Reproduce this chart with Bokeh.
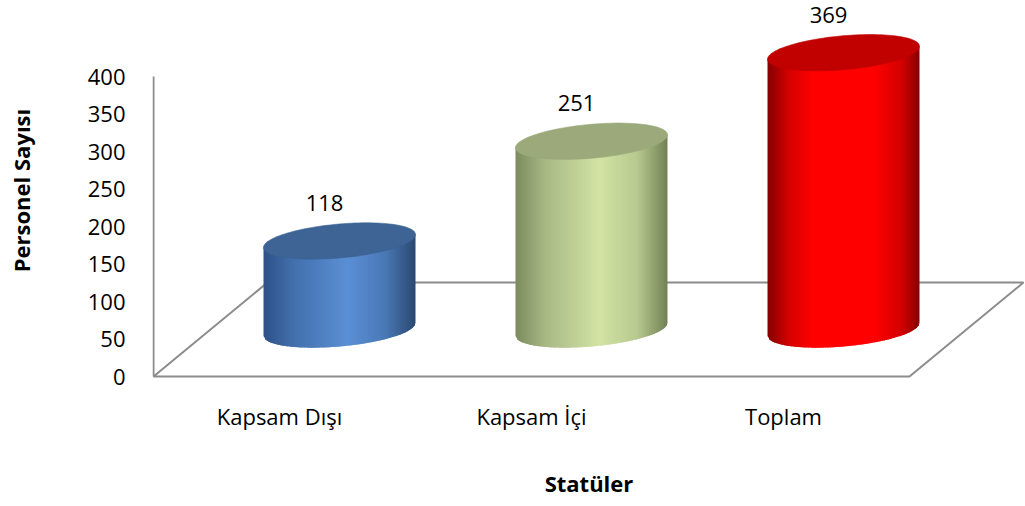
import numpy as np
from bokeh.plotting import figure
from bokeh.models import FixedTicker, Range1d
from bokeh.core.properties import value
from bokeh.embed import file_html
from bokeh.resources import INLINE

# ---------------- data ----------------
categories = ["Kapsam Dışı", "Kapsam İçi", "Toplam"]
counts = [118, 251, 369]
y_ticks = [0, 50, 100, 150, 200, 250, 300, 350, 400]
x_title = "Statüler"
y_title = "Personel Sayısı"

# ---------------- styling ----------------
side_stops = [
    [(0.0, "#2d5187"), (0.2, "#4370ad"), (0.55, "#5b8fd5"), (0.8, "#4a79b6"), (1.0, "#2a4870")],
    [(0.0, "#7c8b5e"), (0.2, "#a9b985"), (0.55, "#d2e3a4"), (0.8, "#b8c98f"), (1.0, "#728155")],
    [(0.0, "#860000"), (0.15, "#d80000"), (0.3, "#ff0000"), (0.7, "#ff0000"), (0.88, "#d40000"), (1.0, "#850000")],
]
top_colors = ["#3d6495", "#9ba97b", "#c10000"]
FONT = "Open Sans"
GRAY = "#8c8c8c"

PX_X = 252.0   # pixels per category unit
PX_Y = 0.75    # pixels per value unit
W, H = 1025, 506
FL, FR, FT, FB = 152, 1025, 0, 380      # frame edges in figure pixels
X0, Y0 = 153, 376                        # figure pixel of data origin

def dx(px):
    return px / PX_X

def dy(px):
    return px / PX_Y

def hex2rgb(h):
    return np.array([int(h[i:i + 2], 16) for i in (1, 3, 5)], dtype=float)

def grad(stops, t):
    for (t0, c0), (t1, c1) in zip(stops[:-1], stops[1:]):
        if t0 <= t <= t1:
            f = (t - t0) / (t1 - t0)
            c = hex2rgb(c0) * (1 - f) + hex2rgb(c1) * f
            return "#%02x%02x%02x" % tuple(int(round(v)) for v in c)
    return stops[-1][1]

p = figure(width=W, height=H,
           x_range=Range1d((FL - X0) / PX_X, (FR - X0) / PX_X),
           y_range=Range1d(-(FB - Y0) / PX_Y, (Y0 - FT) / PX_Y),
           min_border_left=FL, min_border_right=W - FR,
           min_border_top=FT, min_border_bottom=H - FB,
           output_backend="svg", toolbar_location=None)
p.outline_line_color = None
p.xgrid.visible = False
p.ygrid.visible = False
p.background_fill_color = "white"
p.border_fill_color = "white"

n = len(categories)
DEPTH_X, DEPTH_Y = 114, 94          # floor depth in px
# floor
p.patch(x=[0, n, n + dx(DEPTH_X), dx(DEPTH_X)], y=[0, 0, dy(DEPTH_Y), dy(DEPTH_Y)],
        fill_color=None, line_color=GRAY, line_width=2)
# value axis line
p.segment(x0=[0], y0=[0], x1=[0], y1=[max(y_ticks)], line_color=GRAY, line_width=2)

# cylinders
A, B, M = 76.0, 17.0, 0.085
OFF_X, OFF_Y = 60, 47
N = 90
OVL = 1.0
label_x, label_y = [], []
for i, v in enumerate(counts):
    cx = i + 0.5 + dx(OFF_X)
    base = dy(OFF_Y)
    top = base + v
    xs, ys, cols = [], [], []
    for k in range(N):
        e0 = -A + 2 * A * k / N
        e1 = min(A, -A + 2 * A * (k + 1) / N + OVL)
        b0 = B * np.sqrt(max(0.0, 1 - (e0 / A) ** 2))
        b1 = B * np.sqrt(max(0.0, 1 - (e1 / A) ** 2))
        xs.append([cx + dx(e0), cx + dx(e1), cx + dx(e1), cx + dx(e0)])
        ys.append([top + dy(M * e0), top + dy(M * e1),
                   base + dy(M * e1 - b1), base + dy(M * e0 - b0)])
        cols.append(grad(side_stops[i], (k + 0.5) / N))
    p.patches(xs=xs, ys=ys, fill_color=cols, line_color=None)
    t = np.linspace(0, 2 * np.pi, 120)
    p.patch(x=cx + dx(A * np.cos(t)), y=top + dy(B * np.sin(t) + M * A * np.cos(t)),
            fill_color=top_colors[i], line_color=top_colors[i], line_width=0.6)
    label_x.append(cx + dx(-15))
    label_y.append(top + dy(38))

p.text(x=label_x, y=label_y, text=[str(v) for v in counts],
       text_align="center", text_baseline="middle",
       text_font=value(FONT), text_font_size="22px", text_color="black")

# axes
yax = p.yaxis[0]
yax.ticker = FixedTicker(ticks=y_ticks)
yax.axis_line_color = None
yax.major_tick_line_color = None
yax.minor_tick_line_color = None
yax.major_tick_out = 0
yax.major_tick_in = 0
yax.minor_tick_out = 0
yax.major_label_standoff = 27
yax.major_label_text_font = FONT
yax.major_label_text_font_size = "22px"
yax.major_label_text_color = "black"
yax.axis_label = y_title
yax.axis_label_text_font = FONT
yax.axis_label_text_font_size = "22px"
yax.axis_label_text_font_style = "bold"
yax.axis_label_text_color = "black"
yax.axis_label_standoff = 49

xax = p.xaxis[0]
xax.ticker = FixedTicker(ticks=[i + 0.5 for i in range(n)])
xax.major_label_overrides = {i + 0.5: c for i, c in enumerate(categories)}
xax.axis_line_color = None
xax.major_tick_line_color = None
xax.minor_tick_line_color = None
xax.major_tick_out = 0
xax.major_tick_in = 0
xax.minor_tick_out = 0
xax.major_label_standoff = 20
xax.major_label_text_font = FONT
xax.major_label_text_font_size = "22px"
xax.major_label_text_color = "black"
xax.axis_label = x_title
xax.axis_label_text_font = FONT
xax.axis_label_text_font_size = "22px"
xax.axis_label_text_font_style = "bold"
xax.axis_label_text_color = "black"
xax.axis_label_standoff = 34

open("out.html", "w").write(file_html(p, INLINE))
